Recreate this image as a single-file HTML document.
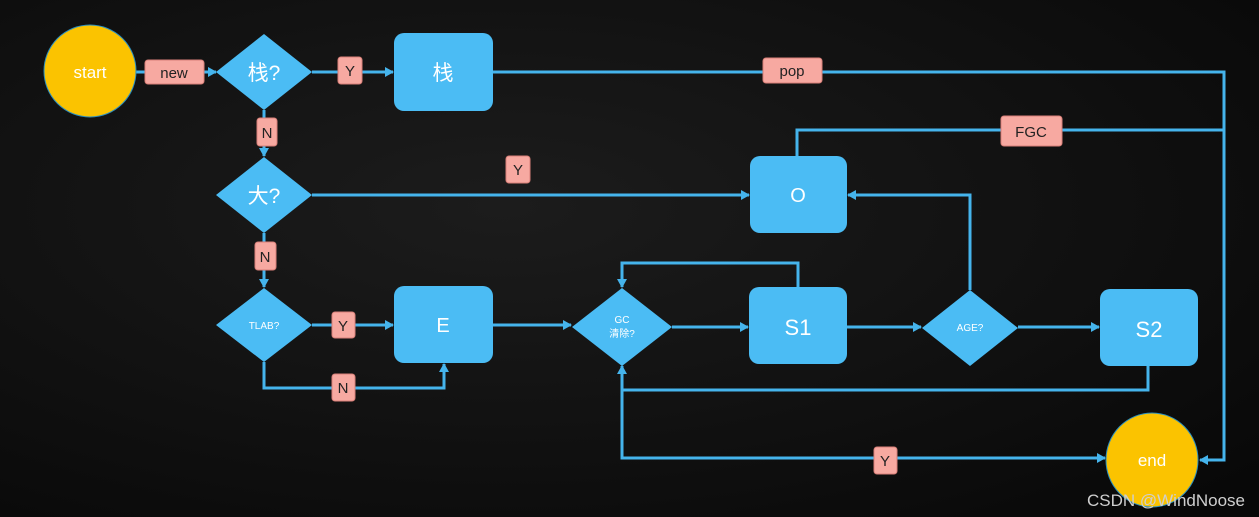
<!DOCTYPE html>
<html><head><meta charset="utf-8"><style>
html,body{margin:0;padding:0;background:#0d0d0d;}
svg{display:block}
text{font-family:"Liberation Sans","Noto Sans CJK SC",sans-serif;}
</style></head><body>
<svg width="1259" height="517" viewBox="0 0 1259 517" xmlns="http://www.w3.org/2000/svg">
<defs>
<marker id="a" markerWidth="10" markerHeight="10" refX="8" refY="5" orient="auto" markerUnits="userSpaceOnUse">
<path d="M0,0 L9,5 L0,10 z" fill="#45b4ec"/></marker>
<radialGradient id="bg" cx="0.4" cy="0.4" r="0.8"><stop offset="0" stop-color="#1c1c1c"/><stop offset="1" stop-color="#080808"/></radialGradient>
</defs>
<rect width="1259" height="517" fill="url(#bg)"/>
<g stroke="#45b4ec" stroke-width="3" fill="none">
<line x1="136" y1="72" x2="216" y2="72" marker-end="url(#a)"/>
<line x1="312" y1="72" x2="393" y2="72" marker-end="url(#a)"/>
<polyline points="493,72 1224,72 1224,460 1200,460" marker-end="url(#a)"/>
<polyline points="797,156 797,130 1224,130"/>
<line x1="264" y1="110" x2="264" y2="156" marker-end="url(#a)"/>
<line x1="312" y1="195" x2="749" y2="195" marker-end="url(#a)"/>
<line x1="264" y1="233" x2="264" y2="287" marker-end="url(#a)"/>
<line x1="312" y1="325" x2="393" y2="325" marker-end="url(#a)"/>
<polyline points="264,362 264,388 444,388 444,364" marker-end="url(#a)"/>
<line x1="493" y1="325" x2="571" y2="325" marker-end="url(#a)"/>
<line x1="672" y1="327" x2="748" y2="327" marker-end="url(#a)"/>
<polyline points="798,287 798,263 622,263 622,287" marker-end="url(#a)"/>
<line x1="847" y1="327" x2="921" y2="327" marker-end="url(#a)"/>
<polyline points="970,290 970,195 848,195" marker-end="url(#a)"/>
<line x1="1018" y1="327" x2="1099" y2="327" marker-end="url(#a)"/>
<polyline points="1148,366 1148,390 622,390 622,366" marker-end="url(#a)"/>
<polyline points="622,390 622,458 1105,458" marker-end="url(#a)"/>
</g>
<circle cx="90" cy="71" r="46" fill="#fbc300" stroke="#2a8fc0" stroke-width="1"/>
<text x="90" y="78" font-size="17" fill="#fff" text-anchor="middle">start</text>
<ellipse cx="1152" cy="460" rx="46" ry="47" fill="#fbc300" stroke="#2a8fc0" stroke-width="1"/>
<text x="1152" y="466" font-size="17" fill="#fff" text-anchor="middle">end</text>
<g fill="#4bbcf4">
<polygon points="216,72 264,34 312,72 264,110"/>
<polygon points="216,195 264,157 312,195 264,233"/>
<polygon points="216,325 264,288 312,325 264,362"/>
<polygon points="572,327 622,288 672,327 622,366"/>
<polygon points="922,328 970,290 1018,328 970,366"/>
<rect x="394" y="33" width="99" height="78" rx="10"/>
<rect x="750" y="156" width="97" height="77" rx="10"/>
<rect x="394" y="286" width="99" height="77" rx="10"/>
<rect x="749" y="287" width="98" height="77" rx="10"/>
<rect x="1100" y="289" width="98" height="77" rx="10"/>
</g>
<g fill="#fff" text-anchor="middle">
<text x="264" y="80" font-size="21">栈?</text>
<text x="264" y="203" font-size="21">大?</text>
<text x="264" y="329" font-size="10">TLAB?</text>
<text x="622" y="323" font-size="10">GC</text>
<text x="622" y="337" font-size="10">清除?</text>
<text x="970" y="331" font-size="10">AGE?</text>
<text x="443" y="80" font-size="21">栈</text>
<text x="798" y="202" font-size="20">O</text>
<text x="443" y="332" font-size="20">E</text>
<text x="798" y="335" font-size="22">S1</text>
<text x="1149" y="337" font-size="22">S2</text>
</g>
<g fill="#f7a9a1" stroke="#d98079" stroke-width="1">
<rect x="145" y="60" width="59" height="24" rx="3"/>
<rect x="338" y="57" width="24" height="27" rx="3"/>
<rect x="763" y="58" width="59" height="25" rx="3"/>
<rect x="257" y="118" width="20" height="28" rx="3"/>
<rect x="506" y="156" width="24" height="27" rx="3"/>
<rect x="1001" y="116" width="61" height="30" rx="3"/>
<rect x="255" y="242" width="21" height="28" rx="3"/>
<rect x="332" y="312" width="23" height="26" rx="3"/>
<rect x="332" y="374" width="23" height="27" rx="3"/>
<rect x="874" y="447" width="23" height="27" rx="3"/>
</g>
<g fill="#222" text-anchor="middle" font-size="15">
<text x="174" y="78">new</text>
<text x="350" y="76">Y</text>
<text x="792" y="76">pop</text>
<text x="267" y="138">N</text>
<text x="518" y="175">Y</text>
<text x="1031" y="137">FGC</text>
<text x="265" y="262">N</text>
<text x="343" y="331">Y</text>
<text x="343" y="393">N</text>
<text x="885" y="466">Y</text>
</g>
<text x="1245" y="506" font-size="17" fill="#cfcfcf" text-anchor="end">CSDN @WindNoose</text>
</svg>
</body></html>
